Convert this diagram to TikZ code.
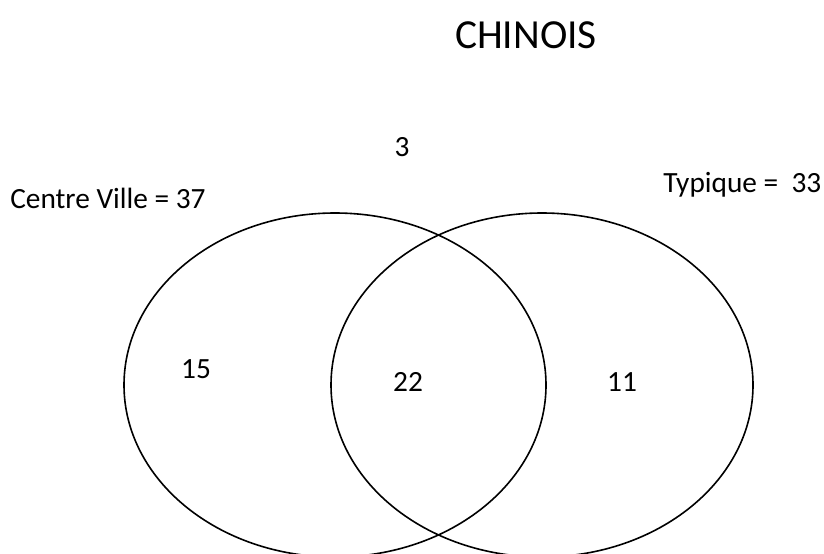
\documentclass[tikz,border=0pt]{standalone}
\usepackage{fontspec}
\setmainfont{Carlito}
\begin{document}
\begin{tikzpicture}[x=0.75pt,y=-0.75pt,
  setline/.style={line width=1.2pt, draw=black},
  lab/.style={font=\fontsize{22}{26}\selectfont, inner sep=0pt},
  heading/.style={font=\fontsize{31}{36}\selectfont, inner sep=0pt}]
\useasboundingbox (0,0) rectangle (824,553);
% the two sets
\draw[setline] (335,385) ellipse [x radius=158.25pt, y radius=129pt];
\draw[setline] (542,385) ellipse [x radius=158.25pt, y radius=129pt];
% title and labels
\node[heading, anchor=base] (title) at (526,48) {CHINOIS};
\node[lab, anchor=base] (outside) at (402,156) {3};
\node[lab, anchor=base west] (setA) at (10,208) {Centre Ville = 37};
\node[lab, anchor=base west] (setB) at (663,192) {Typique =~ 33};
\node[lab, anchor=base] (onlyA) at (196,378) {15};
\node[lab, anchor=base] (both) at (408,391) {22};
\node[lab, anchor=base] (onlyB) at (622,391) {11};
\end{tikzpicture}
\end{document}
